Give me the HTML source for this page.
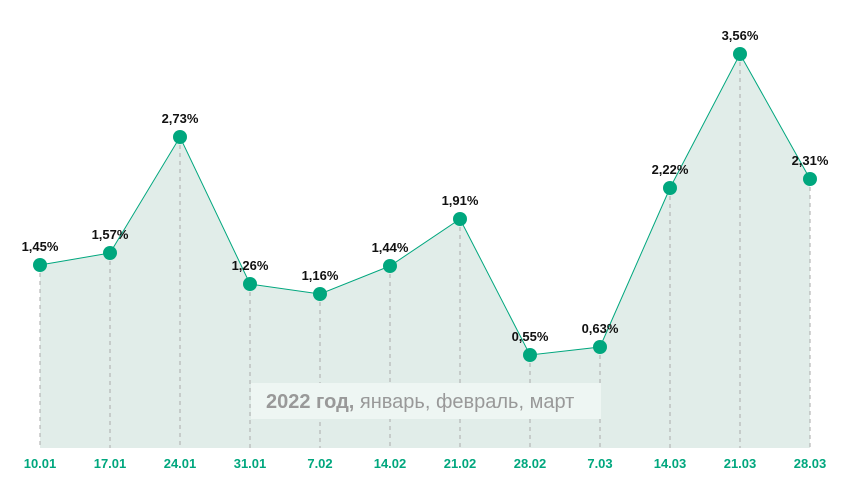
<!DOCTYPE html>
<html><head><meta charset="utf-8"><style>
body{margin:0;background:#fff;}
svg{display:block;font-family:"Liberation Sans","DejaVu Sans",sans-serif;}
</style></head><body>
<svg id="chart" width="850" height="499" viewBox="0 0 850 499"></svg>
<script>
const categories=["10.01","17.01","24.01","31.01","7.02","14.02","21.02","28.02","7.03","14.03","21.03","28.03"];
const values=[1.45,1.57,2.73,1.26,1.16,1.44,1.91,0.55,0.63,2.22,3.56,2.31];
const labels=["1,45%","1,57%","2,73%","1,26%","1,16%","1,44%","1,91%","0,55%","0,63%","2,22%","3,56%","2,31%"];
const NS="http://www.w3.org/2000/svg";
const svg=document.getElementById('chart');
const x=i=>40+i*70;
const y=v=>410-v*100;
const base=448;
function mk(t,a){const e=document.createElementNS(NS,t);for(const k in a)e.setAttribute(k,a[k]);svg.appendChild(e);return e;}
let d=`M${x(0)},${base}`;values.forEach((v,i)=>d+=` L${x(i)},${y(v)}`);d+=` L${x(values.length-1)},${base}Z`;
const area=mk('path',{d:d,fill:'#e1ede9'});


values.forEach((v,i)=>{
 const g=mk('line',{x1:x(i),x2:x(i),y1:y(v),y2:base,stroke:'#aaa','stroke-dasharray':'4,4','stroke-width':1});
 
 
});
const box=mk('rect',{x:251,y:383,width:350,height:36,fill:'#eef6f3'});


const cap=mk('text',{x:266,y:408,'font-size':20,fill:'#999'});
cap.innerHTML='<tspan font-weight="bold">2022 год,</tspan> январь, февраль, март';


let p='';values.forEach((v,i)=>p+=(i?' L':'M')+x(i)+','+y(v));
const line=mk('path',{d:p,fill:'none',stroke:'#00a77e','stroke-width':1});


values.forEach((v,i)=>{
 const c=mk('circle',{cx:x(i),cy:y(v),r:7,fill:'#00a77e'});
 
 
 const t=mk('text',{x:x(i),y:y(v)-14,'text-anchor':'middle','font-size':13,'font-weight':'bold',fill:'#111'});
 t.textContent=labels[i];
 
 
 const xl=mk('text',{x:x(i),y:468,'text-anchor':'middle','font-size':13,'font-weight':'bold',fill:'#00a77e'});
 xl.textContent=categories[i];
 
 
});
</script>
</body></html>
